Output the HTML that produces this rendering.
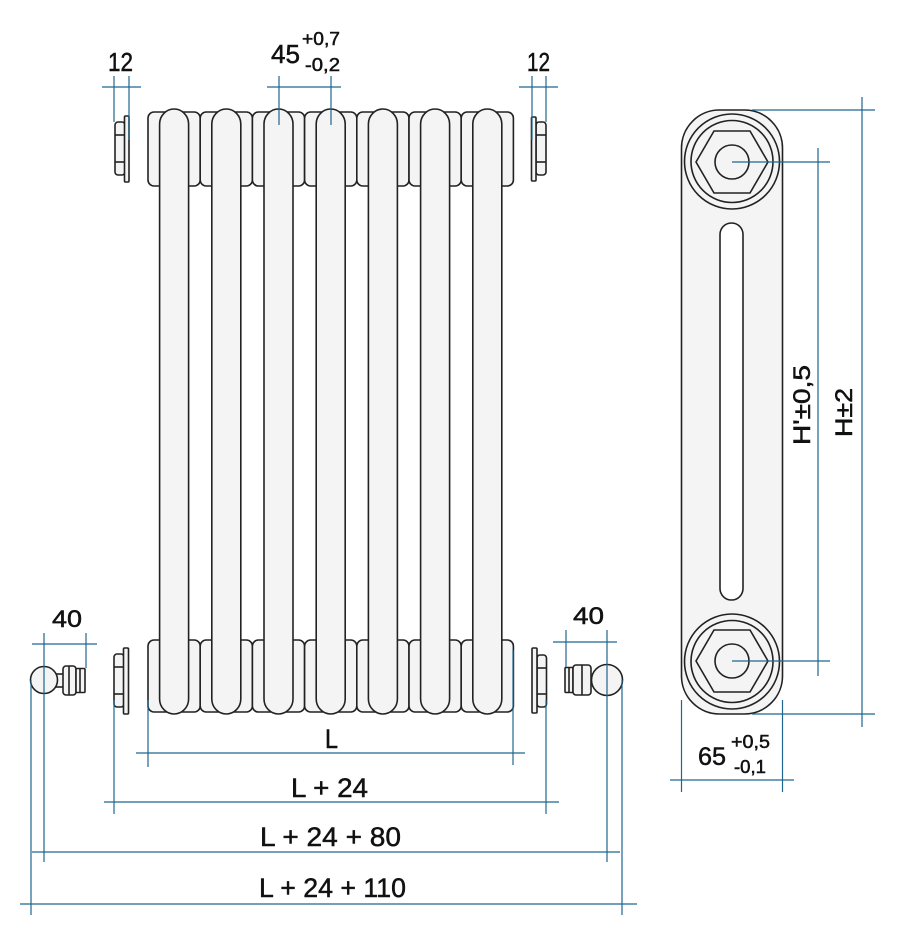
<!DOCTYPE html>
<html><head><meta charset="utf-8">
<style>
html,body{margin:0;padding:0;background:#fff;}
svg{display:block;}
text{font-family:"Liberation Sans",sans-serif;fill:#111;font-weight:normal;stroke:#111;stroke-width:0.5;}
</style></head>
<body>
<svg width="900" height="943" viewBox="0 0 900 943" xmlns="http://www.w3.org/2000/svg">
<rect width="900" height="943" fill="#fff"/>

<!-- ===== Radiator front view ===== -->
<g stroke="#222" stroke-width="1.6" fill="#f4f4f4">
  <!-- top sections -->
  <rect x="148" y="112" width="52.2" height="74" rx="6"/>
  <rect x="200.2" y="112" width="52.2" height="74" rx="6"/>
  <rect x="252.4" y="112" width="52.2" height="74" rx="6"/>
  <rect x="304.6" y="112" width="52.2" height="74" rx="6"/>
  <rect x="356.8" y="112" width="52.2" height="74" rx="6"/>
  <rect x="409" y="112" width="52.2" height="74" rx="6"/>
  <rect x="461.2" y="112" width="52.2" height="74" rx="6"/>
  <!-- bottom sections -->
  <rect x="148" y="640" width="52.2" height="72" rx="6"/>
  <rect x="200.2" y="640" width="52.2" height="72" rx="6"/>
  <rect x="252.4" y="640" width="52.2" height="72" rx="6"/>
  <rect x="304.6" y="640" width="52.2" height="72" rx="6"/>
  <rect x="356.8" y="640" width="52.2" height="72" rx="6"/>
  <rect x="409" y="640" width="52.2" height="72" rx="6"/>
  <rect x="461.2" y="640" width="52.2" height="72" rx="6"/>
  <!-- columns -->
  <rect x="159.6" y="109" width="29" height="605" rx="14.5" ry="15"/>
  <rect x="211.8" y="109" width="29" height="605" rx="14.5" ry="15"/>
  <rect x="264" y="109" width="29" height="605" rx="14.5" ry="15"/>
  <rect x="316.2" y="109" width="29" height="605" rx="14.5" ry="15"/>
  <rect x="368.4" y="109" width="29" height="605" rx="14.5" ry="15"/>
  <rect x="420.6" y="109" width="29" height="605" rx="14.5" ry="15"/>
  <rect x="472.8" y="109" width="29" height="605" rx="14.5" ry="15"/>

  <!-- plugs top-left -->
  <rect x="115" y="122" width="10" height="53" rx="3"/>
  <line x1="115" y1="135" x2="125" y2="135"/>
  <line x1="115" y1="162" x2="125" y2="162"/>
  <rect x="124.5" y="116" width="4.5" height="66" rx="1"/>
  <!-- plugs bottom-left -->
  <rect x="114" y="654" width="10" height="53" rx="3"/>
  <line x1="114" y1="667" x2="124" y2="667"/>
  <line x1="114" y1="694" x2="124" y2="694"/>
  <rect x="123.5" y="648" width="5" height="66" rx="1"/>
  <!-- plugs top-right -->
  <rect x="536" y="122" width="10" height="53" rx="3"/>
  <line x1="536" y1="135" x2="546" y2="135"/>
  <line x1="536" y1="162" x2="546" y2="162"/>
  <rect x="531.5" y="117" width="4.5" height="64" rx="1"/>
  <!-- plugs bottom-right -->
  <rect x="537" y="655" width="9.5" height="52" rx="3"/>
  <line x1="537" y1="668" x2="546.5" y2="668"/>
  <line x1="537" y1="694" x2="546.5" y2="694"/>
  <rect x="532" y="648" width="5" height="65" rx="1"/>

  <!-- left valve -->
  <rect x="56" y="674" width="8" height="13"/>
  <rect x="63" y="666" width="13" height="29" rx="3"/>
  <line x1="69" y1="666" x2="69" y2="695"/>
  <rect x="76" y="668.5" width="9" height="24" rx="1"/>
  <line x1="80" y1="668.5" x2="80" y2="692.5"/>
  <circle cx="44" cy="680" r="13.5"/>
  <!-- right valve -->
  <rect x="565" y="667.5" width="8" height="25" rx="1"/>
  <line x1="569" y1="667.5" x2="569" y2="692.5"/>
  <rect x="573" y="665" width="18" height="30" rx="3"/>
  <line x1="582" y1="665" x2="582" y2="695"/>
  <circle cx="607" cy="680" r="15.5"/>
</g>

<!-- ===== Side view ===== -->
<g stroke="#222" stroke-width="1.6">
  <rect x="681.5" y="110" width="101" height="604" rx="38" fill="#f4f4f4"/>
  <rect x="720" y="223" width="23" height="377" rx="11.5" fill="#fff"/>
  <circle cx="732" cy="161.5" r="47.5" fill="none"/>
  <circle cx="732" cy="161.5" r="41" fill="none"/>
  <polygon points="696,162 714,131 750,131 768,162 750,193 714,193" fill="none"/>
  <circle cx="732" cy="162" r="17" fill="none"/>
  <circle cx="732" cy="661.5" r="47.5" fill="none"/>
  <circle cx="732" cy="661.5" r="41" fill="none"/>
  <polygon points="696,661 714,630 750,630 768,661 750,692 714,692" fill="none"/>
  <circle cx="732" cy="661" r="17" fill="none"/>
</g>

<!-- ===== Dimension lines ===== -->
<g stroke="#1f6690" stroke-width="1.2" fill="none">
  <!-- top 12 left -->
  <line x1="102" y1="87" x2="141" y2="87"/>
  <line x1="114" y1="76" x2="114" y2="122"/>
  <line x1="129" y1="76" x2="129" y2="140"/>
  <!-- top 12 right -->
  <line x1="519" y1="87" x2="558" y2="87"/>
  <line x1="532" y1="76" x2="532" y2="140"/>
  <line x1="546" y1="76" x2="546" y2="122"/>
  <!-- 45 -->
  <line x1="267" y1="87" x2="341" y2="87"/>
  <line x1="279" y1="76" x2="279" y2="125"/>
  <line x1="331" y1="76" x2="331" y2="125"/>

  <!-- 40 left -->
  <line x1="32" y1="644" x2="97" y2="644"/>
  <line x1="44" y1="633" x2="44" y2="862"/>
  <line x1="86" y1="633" x2="86" y2="668"/>
  <line x1="31" y1="680" x2="31" y2="915"/>
  <!-- 40 right -->
  <line x1="553" y1="642" x2="617" y2="642"/>
  <line x1="566" y1="630" x2="566" y2="667"/>
  <line x1="607" y1="630" x2="607" y2="862"/>
  <line x1="622" y1="680" x2="622" y2="915"/>

  <!-- L -->
  <line x1="136" y1="753" x2="525" y2="753"/>
  <line x1="148" y1="700" x2="148" y2="767"/>
  <line x1="513" y1="650" x2="513" y2="765"/>
  <!-- L+24 -->
  <line x1="104" y1="802" x2="559" y2="802"/>
  <line x1="114" y1="700" x2="114" y2="814"/>
  <line x1="546" y1="700" x2="546" y2="814"/>
  <!-- L+24+80 -->
  <line x1="32" y1="852" x2="620" y2="852"/>
  <!-- L+24+110 -->
  <line x1="20" y1="904" x2="637" y2="904"/>

  <!-- side view H -->
  <line x1="752" y1="110" x2="875" y2="110"/>
  <line x1="752" y1="714" x2="875" y2="714"/>
  <line x1="862" y1="97" x2="862" y2="727"/>
  <!-- H' -->
  <line x1="732" y1="162" x2="830" y2="162"/>
  <line x1="732" y1="661" x2="830" y2="661"/>
  <line x1="818" y1="148" x2="818" y2="676"/>
  <!-- 65 -->
  <line x1="681.5" y1="700" x2="681.5" y2="792"/>
  <line x1="782.5" y1="700" x2="782.5" y2="792"/>
  <line x1="670" y1="780" x2="794" y2="780"/>
</g>

<!-- ===== Labels ===== -->
<text x="108" y="71" font-size="26" textLength="25" lengthAdjust="spacingAndGlyphs">12</text>
<text x="527" y="71" font-size="26" textLength="23" lengthAdjust="spacingAndGlyphs">12</text>
<text x="271" y="63" font-size="26" textLength="29" lengthAdjust="spacingAndGlyphs">45</text>
<text x="302" y="45" font-size="18" textLength="38" lengthAdjust="spacingAndGlyphs">+0,7</text>
<text x="305" y="71" font-size="18" textLength="35" lengthAdjust="spacingAndGlyphs">-0,2</text>

<text x="52" y="627" font-size="24" textLength="30" lengthAdjust="spacingAndGlyphs">40</text>
<text x="573" y="624" font-size="24" textLength="31" lengthAdjust="spacingAndGlyphs">40</text>

<text x="325" y="748" font-size="27" textLength="13" lengthAdjust="spacingAndGlyphs">L</text>
<text x="291" y="797" font-size="27" textLength="77" lengthAdjust="spacingAndGlyphs">L + 24</text>
<text x="260" y="846" font-size="27" textLength="141" lengthAdjust="spacingAndGlyphs">L + 24 + 80</text>
<text x="259" y="897" font-size="27" textLength="147" lengthAdjust="spacingAndGlyphs">L + 24 + 110</text>

<text x="698" y="765" font-size="25" textLength="28" lengthAdjust="spacingAndGlyphs">65</text>
<text x="731" y="748" font-size="18" textLength="39" lengthAdjust="spacingAndGlyphs">+0,5</text>
<text x="734" y="773" font-size="18" textLength="32" lengthAdjust="spacingAndGlyphs">-0,1</text>

<text transform="translate(810,445) rotate(-90)" font-size="24" textLength="80" lengthAdjust="spacingAndGlyphs">H'±0,5</text>
<text transform="translate(852,437) rotate(-90)" font-size="24" textLength="49" lengthAdjust="spacingAndGlyphs">H±2</text>
</svg>
</body></html>
